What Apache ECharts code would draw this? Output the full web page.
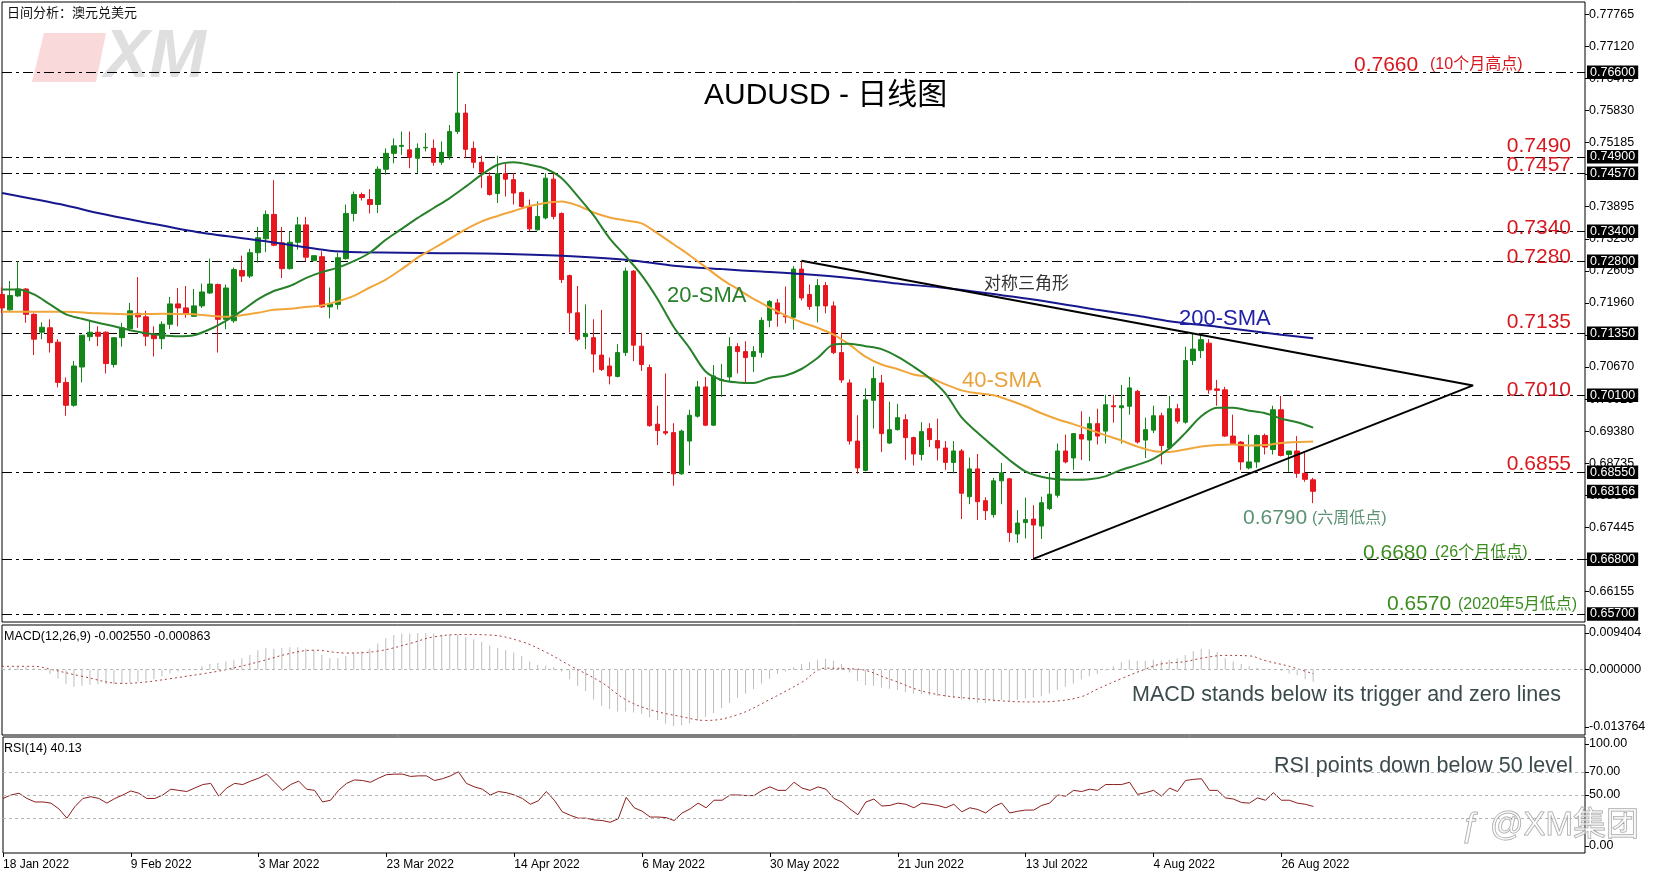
<!DOCTYPE html>
<html><head><meta charset="utf-8">
<script src="https://cdn.jsdelivr.net/npm/echarts@6/dist/echarts.min.js"></script>
<style>html,body{margin:0;padding:0;background:#fff;}#c{width:1654px;height:877px;}</style>
</head><body><div id="c"></div>
<script>
// ---------- DATA ----------
// daily candles, 18 Jan 2022 .. 1 Sep 2022 : [open, high, low, close]
const candles = [
[0.7213,0.7228,0.7175,0.7186],[0.7182,0.7240,0.7180,0.7211],[0.7210,0.7280,0.7208,0.7224],[0.7224,0.7226,0.7156,0.7173],[0.7173,0.7175,0.7091,0.7123],
[0.7137,0.7157,0.7123,0.7147],[0.7146,0.7163,0.7096,0.7116],[0.7117,0.7123,0.7026,0.7036],[0.7036,0.7046,0.6969,0.6990],[0.6990,0.7079,0.6987,0.7069],
[0.7067,0.7131,0.7036,0.7131],[0.7128,0.7159,0.7119,0.7137],[0.7137,0.7149,0.7109,0.7129],[0.7137,0.7139,0.7054,0.7074],[0.7072,0.7126,0.7066,0.7126],
[0.7126,0.7156,0.7108,0.7146],[0.7144,0.7196,0.7141,0.7180],[0.7175,0.7248,0.7146,0.7168],[0.7168,0.7180,0.7109,0.7129],[0.7133,0.7149,0.7088,0.7124],
[0.7124,0.7159,0.7103,0.7153],[0.7153,0.7208,0.7143,0.7194],[0.7194,0.7226,0.7149,0.7186],[0.7186,0.7230,0.7166,0.7175],[0.7169,0.7224,0.7168,0.7190],
[0.7190,0.7235,0.7186,0.7218],[0.7216,0.7285,0.7214,0.7234],[0.7233,0.7235,0.7096,0.7163],[0.7163,0.7233,0.7143,0.7226],[0.7160,0.7267,0.7156,0.7263],
[0.7261,0.7291,0.7238,0.7250],[0.7250,0.7305,0.7246,0.7297],[0.7297,0.7349,0.7277,0.7327],[0.7325,0.7382,0.7298,0.7374],[0.7374,0.7443,0.7310,0.7312],
[0.7317,0.7349,0.7246,0.7265],[0.7265,0.7340,0.7263,0.7318],[0.7318,0.7369,0.7303,0.7353],[0.7353,0.7369,0.7280,0.7288],[0.7281,0.7291,0.7280,0.7291],
[0.7289,0.7300,0.7186,0.7188],[0.7188,0.7227,0.7165,0.7194],[0.7193,0.7297,0.7183,0.7287],[0.7285,0.7394,0.7283,0.7376],[0.7376,0.7420,0.7360,0.7414],
[0.7414,0.7418,0.7402,0.7408],[0.7404,0.7425,0.7376,0.7394],[0.7394,0.7471,0.7377,0.7465],[0.7465,0.7507,0.7454,0.7497],[0.7497,0.7527,0.7477,0.7512],
[0.7511,0.7541,0.7494,0.7513],[0.7504,0.7541,0.7467,0.7489],[0.7487,0.7517,0.7457,0.7507],[0.7508,0.7538,0.7501,0.7509],[0.7507,0.7525,0.7472,0.7479],
[0.7479,0.7521,0.7474,0.7499],[0.7491,0.7554,0.7484,0.7541],[0.7541,0.7661,0.7536,0.7578],[0.7578,0.7596,0.7487,0.7505],[0.7507,0.7521,0.7467,0.7479],
[0.7479,0.7492,0.7427,0.7459],[0.7451,0.7459,0.7412,0.7414],[0.7416,0.7492,0.7397,0.7456],[0.7456,0.7477,0.7410,0.7445],[0.7444,0.7457,0.7394,0.7417],
[0.7418,0.7420,0.7388,0.7390],[0.7390,0.7404,0.7340,0.7345],[0.7343,0.7400,0.7342,0.7370],[0.7367,0.7457,0.7364,0.7447],[0.7445,0.7457,0.7364,0.7370],
[0.7376,0.7378,0.7236,0.7243],[0.7251,0.7253,0.7136,0.7176],[0.7176,0.7230,0.7119,0.7123],[0.7128,0.7193,0.7103,0.7134],[0.7126,0.7163,0.7056,0.7093],
[0.7091,0.7182,0.7059,0.7062],[0.7069,0.7086,0.7032,0.7049],[0.7048,0.7113,0.7046,0.7096],[0.7096,0.7267,0.7089,0.7260],[0.7260,0.7262,0.7079,0.7111],
[0.7109,0.7136,0.7059,0.7072],[0.7066,0.7072,0.6947,0.6949],[0.6952,0.6989,0.6910,0.6939],[0.6937,0.7054,0.6930,0.6934],[0.6935,0.6954,0.6828,0.6852],
[0.6852,0.6941,0.6850,0.6938],[0.6918,0.6981,0.6869,0.6970],[0.6968,0.7039,0.6965,0.7027],[0.7027,0.7047,0.6948,0.6950],[0.6950,0.7071,0.6948,0.7049],
[0.7040,0.7073,0.7007,0.7042],[0.7047,0.7127,0.7037,0.7108],[0.7108,0.7115,0.7054,0.7098],[0.7098,0.7119,0.7035,0.7086],[0.7088,0.7109,0.7057,0.7098],
[0.7096,0.7167,0.7086,0.7161],[0.7161,0.7202,0.7147,0.7199],[0.7196,0.7204,0.7148,0.7174],[0.7170,0.7229,0.7155,0.7168],[0.7167,0.7270,0.7142,0.7264],
[0.7264,0.7280,0.7201,0.7206],[0.7213,0.7233,0.7182,0.7189],[0.7190,0.7244,0.7157,0.7231],[0.7231,0.7238,0.7175,0.7190],[0.7190,0.7199,0.7093,0.7096],
[0.7096,0.7136,0.7035,0.7041],[0.7035,0.7042,0.6911,0.6918],[0.6918,0.6970,0.6852,0.6864],[0.6859,0.7024,0.6857,0.7001],[0.7000,0.7068,0.6943,0.7044],
[0.7035,0.7051,0.6896,0.6933],[0.6914,0.6997,0.6912,0.6941],[0.6941,0.6993,0.6939,0.6965],[0.6961,0.6972,0.6880,0.6925],[0.6925,0.6927,0.6869,0.6892],
[0.6891,0.6956,0.6879,0.6937],[0.6943,0.6954,0.6906,0.6921],[0.6919,0.6963,0.6879,0.6904],[0.6904,0.6918,0.6860,0.6875],[0.6875,0.6918,0.6853,0.6898],
[0.6898,0.6902,0.6761,0.6813],[0.6806,0.6885,0.6791,0.6862],[0.6862,0.6892,0.6759,0.6796],[0.6798,0.6805,0.6759,0.6778],[0.6770,0.6844,0.6764,0.6838],
[0.6838,0.6874,0.6791,0.6854],[0.6842,0.6844,0.6715,0.6734],[0.6731,0.6779,0.6713,0.6753],[0.6754,0.6804,0.6722,0.6760],[0.6761,0.6789,0.6681,0.6749],
[0.6747,0.6806,0.6721,0.6794],[0.6782,0.6854,0.6779,0.6811],[0.6809,0.6913,0.6804,0.6898],[0.6898,0.6931,0.6873,0.6876],[0.6884,0.6934,0.6860,0.6933],
[0.6931,0.6978,0.6880,0.6922],[0.6920,0.6967,0.6878,0.6953],[0.6953,0.6983,0.6911,0.6928],[0.6938,0.7011,0.6913,0.6991],[0.6989,0.7011,0.6955,0.6987],
[0.6985,0.7031,0.6913,0.6989],[0.6988,0.7047,0.6971,0.7025],[0.7018,0.7021,0.6913,0.6916],[0.6920,0.6965,0.6884,0.6941],[0.6940,0.6989,0.6934,0.6969],
[0.6969,0.6975,0.6871,0.6909],[0.6904,0.7009,0.6901,0.6983],[0.6983,0.6993,0.6953,0.6958],[0.6956,0.7108,0.6953,0.7080],[0.7080,0.7135,0.7071,0.7103],
[0.7100,0.7135,0.7085,0.7122],[0.7115,0.7123,0.7013,0.7021],[0.7023,0.7041,0.6989,0.7020],[0.7021,0.7027,0.6926,0.6928],[0.6928,0.6971,0.6911,0.6913],
[0.6916,0.6918,0.6860,0.6876],[0.6864,0.6931,0.6861,0.6876],[0.6876,0.6931,0.6864,0.6929],[0.6929,0.6933,0.6891,0.6906],[0.6901,0.6989,0.6891,0.6981],
[0.6981,0.7009,0.6887,0.6889],[0.6891,0.6898,0.6856,0.6898],[0.6898,0.6928,0.6844,0.6853],[0.6853,0.6894,0.6836,0.6841],[0.6840,0.6844,0.6793,0.6817]
];
// moving averages read at sampled bars: [barIndex, value]
const sma20 = [[0,0.7223],[2,0.7223],[4,0.7213],[6,0.7193],[8,0.7173],[10,0.7164],[12,0.7156],[14,0.7149],[16,0.7141],[18,0.7135],[20,0.7131],[22,0.7129],[24,0.7131],[26,0.7143],[28,0.7160],[30,0.7180],[32,0.7203],[34,0.7220],[36,0.7230],[38,0.7246],[40,0.7258],[42,0.7267],[44,0.7280],[46,0.7297],[48,0.7323],[50,0.7345],[52,0.7367],[54,0.7387],[56,0.7407],[58,0.7430],[60,0.7454],[62,0.7474],[64,0.7479],[66,0.7474],[68,0.7466],[70,0.7447],[72,0.7411],[74,0.7372],[76,0.7326],[78,0.7290],[80,0.7252],[82,0.7204],[84,0.7148],[86,0.7105],[88,0.7058],[90,0.7041],[92,0.7036],[94,0.7035],[96,0.7045],[98,0.7050],[100,0.7063],[102,0.7085],[104,0.7112],[106,0.7114],[108,0.7109],[110,0.7103],[112,0.7088],[114,0.7068],[116,0.7045],[118,0.7014],[120,0.6966],[122,0.6935],[124,0.6907],[126,0.6880],[128,0.6857],[130,0.6846],[132,0.6841],[134,0.6840],[136,0.6841],[138,0.6847],[140,0.6860],[142,0.6870],[144,0.6882],[146,0.6903],[148,0.6934],[150,0.6968],[152,0.6985],[154,0.6985],[156,0.6979],[158,0.6974],[160,0.6963],[162,0.6956],[164,0.6945]];
const sma40 = [[0,0.7178],[4,0.7178],[8,0.7178],[12,0.7175],[16,0.7173],[20,0.7174],[24,0.7173],[28,0.7168],[30,0.7171],[32,0.7176],[34,0.7182],[36,0.7184],[38,0.7188],[40,0.7191],[42,0.7199],[44,0.7210],[46,0.7227],[48,0.7243],[50,0.7264],[52,0.7287],[54,0.7306],[56,0.7325],[58,0.7344],[60,0.7360],[62,0.7371],[64,0.7381],[66,0.7391],[68,0.7397],[70,0.7400],[72,0.7392],[74,0.7378],[76,0.7368],[78,0.7362],[80,0.7356],[82,0.7336],[84,0.7314],[86,0.7292],[88,0.7268],[90,0.7244],[92,0.7224],[94,0.7204],[96,0.7187],[98,0.7171],[100,0.7157],[102,0.7146],[104,0.7132],[106,0.7112],[108,0.7088],[110,0.7072],[112,0.7063],[114,0.7052],[116,0.7046],[118,0.7032],[120,0.7020],[122,0.7014],[124,0.7010],[126,0.7000],[128,0.6988],[130,0.6974],[132,0.6962],[134,0.6952],[136,0.6941],[138,0.6930],[140,0.6919],[142,0.6907],[144,0.6898],[146,0.6896],[148,0.6901],[150,0.6907],[152,0.6910],[154,0.6911],[156,0.6909],[158,0.6910],[160,0.6914],[162,0.6916],[164,0.6917]];
const sma200 = [[0,0.7417],[8,0.7392],[12,0.7377],[17,0.7361],[25,0.7337],[33,0.7320],[41,0.7301],[45,0.7298],[55,0.7296],[62,0.7295],[70,0.7291],[78,0.7283],[84,0.7271],[90,0.7264],[95,0.7259],[100,0.7254],[106,0.7246],[112,0.7235],[118,0.7226],[123,0.7216],[131,0.7198],[137,0.7182],[142,0.7170],[147,0.7157],[152,0.7148],[156,0.7140],[160,0.7132],[164,0.7125]];
// symmetrical triangle: upper start -> apex -> lower start
const trianglePts = [[100,0.7281],[184,0.7030],[129,0.6681]];
// horizontal levels and current price
const levels = [0.7660,0.7490,0.7457,0.7340,0.7280,0.7135,0.7010,0.6855,0.6680,0.6570];
const lastPrice = 0.68166;
// price-axis tick labels
const priceTicks = [0.77765,0.77120,0.76475,0.75830,0.75185,0.74540,0.73895,0.73250,0.72605,0.71960,0.71315,0.70670,0.70025,0.69380,0.68735,0.68090,0.67445,0.66800,0.66155];
// MACD(12,26,9) main histogram, in units of 1e-4
const macdMainE4 = [5,5,6,6,3,-2,-9,-19,-31,-36,-34,-32,-31,-31,-31,-29,-27,-25,-23,-20,
-14,-8,-4,-2,1,7,12,14,17,21,24,31,41,46,44,46,47,47,44,41,
31,24,24,29,36,39,44,55,66,73,76,76,77,77,76,74,73,74,69,64,
59,51,46,41,36,29,17,10,9,5,-4,-20,-34,-45,-63,-76,-83,-88,-88,-90,
-93,-100,-106,-114,-119,-117,-113,-107,-99,-92,-81,-70,-59,-50,-41,-29,-19,-9,-4,5,
12,16,21,23,19,12,-6,-24,-33,-34,-38,-40,-43,-47,-50,-52,-54,-56,-57,-59,
-63,-65,-69,-70,-67,-64,-66,-64,-61,-59,-56,-50,-43,-36,-29,-21,-14,-9,-2,7,
16,21,19,19,21,19,21,24,31,39,44,43,37,24,17,12,7,4,2,0,-3,-8,-12,-20,-25.5];
// MACD signal line read at sampled bars, units of 1e-4
const macdSignalE4 = [[0,7],[4,7],[6,1],[10,-14],[15,-29],[18,-26],[21,-19],[25,-9],[28,0],[32,16],[36,34],[39,41],[43,35],[47,39],[51,55],[54,69],[58,74],[61,73],[65,59],[68,37],[71,9],[75,-27],[78,-63],[81,-84],[85,-99],[88,-107],[92,-95],[96,-63],[100,-27],[103,3],[107,1],[111,-20],[116,-49],[123,-63],[129,-68],[132,-66],[135,-57],[137,-41],[140,-19],[143,1],[145,12],[148,17],[150,24],[153,30],[156,29],[158,19],[161,7],[164,-8.6]];
// RSI(14)
const rsi = [47,50,51.5,47,44,44,43,38,30,40,47,48.5,47,43,47,50,53.5,51.5,47,47,
50,55,54,53,56,59,60,49,56,60,59,62,64.5,68,61,54,59,62,55,54,
44,45.5,54,60,63,62.5,61,64.5,67.5,68,68,66,66.5,66.5,62.5,64,66.5,70,60,57,
55,50,53,52,50,47,42,45,53,45.5,35.5,32.5,30,30,28.5,28,26.5,29.5,48,39,
36,31,31,30.5,28,34.5,38,43,39,45.5,45.5,50,50,49.5,49.5,54,57,54,54,61,
56,54,57,55,47,44,38,33,44,46.5,40.5,41,43,42,39,43,42,41,39,42,
35.5,39,37.5,34.5,40,43,34.5,36,37,37,41,43,50,49,54,53,55,54,59,59,
59,61,50.5,52,54,49,56,53,62.5,63.5,64,54,54,47.5,46.5,43.5,43,47.5,45.5,52,
45.5,45.5,43,42,40.13];
// time axis
const dateLabels = ['18 Jan 2022','9 Feb 2022','3 Mar 2022','23 Mar 2022','14 Apr 2022','6 May 2022','30 May 2022','21 Jun 2022','13 Jul 2022','4 Aug 2022','26 Aug 2022'];
const barsPerLabel = 16;
const slotCount = 199; // bar slots across the chart width (incl. empty future space)

// ---------- CHART ----------
const FONT = "'Liberation Sans', Arial, 'Noto Sans CJK SC', sans-serif";
const slots = Array.from({length: slotCount}, (_, i) => String(i));
const isLabelSlot = (i) => i % barsPerLabel === 0 && i / barsPerLabel < dateLabels.length;
const priceMin = 0.65539, priceMax = 0.78015;
const macdMax = 0.009404, macdMin = -0.013764;
const macdInset = (macdMax - macdMin) * 8 / 110;
const rsiInset = 100 * 7 / 116;
const RED = '#d7191f', GREEN = '#3c8d1f', TEAL = '#5a9273';
const UP = '#13861a', DOWN = '#e8161e';

const chart = echarts.init(document.getElementById('c'), null, {renderer: 'canvas'});

function hiddenX(gi) {
  return {type: 'category', gridIndex: gi, data: slots, boundaryGap: false, show: false};
}
function txt(x, y, text, size, color, align, extra) {
  return Object.assign({type: 'text', x: x, y: y, z: 50, silent: true,
    style: {text: text, font: size + 'px ' + FONT, fill: color,
      textAlign: align || 'left', align: align || 'left', textVerticalAlign: 'middle', verticalAlign: 'middle'}}, extra || {});
}
const boxLabel = {show: true, position: 'end', distance: 2, formatter: p => Number(p.value).toFixed(5),
  backgroundColor: '#000', color: '#fff', fontSize: 12.5, fontFamily: FONT, padding: [1, 3, 0, 3], opacity: 1};

const option = {
  animation: false,
  backgroundColor: '#fff',
  grid: [
    {left: 2, top: 2, width: 1583, height: 620, show: true, borderColor: '#000', borderWidth: 1, backgroundColor: 'transparent'},
    {left: 2, top: 625, width: 1583, height: 110, show: true, borderColor: '#000', borderWidth: 1, backgroundColor: 'transparent'},
    {left: 2, top: 737, width: 1583, height: 116, show: true, borderColor: '#000', borderWidth: 1, backgroundColor: 'transparent'}
  ],
  xAxis: [
    hiddenX(0), hiddenX(1),
    {type: 'category', gridIndex: 2, data: slots, boundaryGap: false,
      axisLine: {show: false}, splitLine: {show: false},
      axisTick: {show: true, interval: isLabelSlot, length: 4, lineStyle: {color: '#000'}},
      axisLabel: {show: true, interval: isLabelSlot, formatter: (v, i) => dateLabels[i / barsPerLabel] || '',
        align: 'left', margin: 6, fontSize: 12, fontFamily: FONT, color: '#000'}}
  ],
  yAxis: [
    {type: 'value', gridIndex: 0, position: 'right', min: priceMin, max: priceMax, scale: true,
      splitLine: {show: false}, axisLine: {show: false},
      axisTick: {show: true, length: 4, customValues: priceTicks, lineStyle: {color: '#000'}},
      axisLabel: {customValues: priceTicks, formatter: v => v.toFixed(5), fontSize: 12.5, fontFamily: FONT, color: '#000', margin: 4}},
    {type: 'value', gridIndex: 1, position: 'right', min: macdMin, max: macdMax,
      splitLine: {show: false}, axisLine: {show: false},
      axisTick: {show: true, length: 4, customValues: [macdMax - macdInset, 0, macdMin + macdInset], lineStyle: {color: '#000'}},
      axisLabel: {customValues: [macdMax - macdInset, 0, macdMin + macdInset],
        formatter: v => v > 0.001 ? macdMax.toFixed(6) : (v < -0.001 ? macdMin.toFixed(6) : '0.000000'),
        fontSize: 12.5, fontFamily: FONT, color: '#000', margin: 4}},
    {type: 'value', gridIndex: 2, position: 'right', min: 0, max: 100,
      splitLine: {show: false}, axisLine: {show: false},
      axisTick: {show: true, length: 4, customValues: [100 - rsiInset, 70, 50, rsiInset], lineStyle: {color: '#000'}},
      axisLabel: {customValues: [100 - rsiInset, 70, 50, rsiInset],
        formatter: v => v > 90 ? '100.00' : (v < 10 ? '0.00' : v.toFixed(2)),
        fontSize: 12.5, fontFamily: FONT, color: '#000', margin: 4}}
  ],
  series: [
    {type: 'candlestick', xAxisIndex: 0, yAxisIndex: 0, barWidth: 5, z: 3,
      data: candles.map(c => [c[0], c[3], c[2], c[1]]),
      itemStyle: {color: UP, color0: DOWN, borderColor: UP, borderColor0: DOWN, borderWidth: 1},
      markLine: {silent: true, symbol: ['none', 'none'], animation: false, z: 1, precision: 5,
        lineStyle: {type: [10, 4, 3, 4], color: '#000', width: 1},
        label: boxLabel,
        emphasis: {disabled: true},
        data: levels.map(v => ({yAxis: v})).concat([{yAxis: lastPrice, lineStyle: {color: 'rgba(0,0,0,0)', width: 0}, label: boxLabel}])}},
    {type: 'line', name: '200-SMA', xAxisIndex: 0, yAxisIndex: 0, data: sma200, showSymbol: false, smooth: 0.3, z: 4,
      lineStyle: {color: '#18188e', width: 2}},
    {type: 'line', name: '40-SMA', xAxisIndex: 0, yAxisIndex: 0, data: sma40, showSymbol: false, smooth: 0.3, z: 4,
      lineStyle: {color: '#f0a63a', width: 2}},
    {type: 'line', name: '20-SMA', xAxisIndex: 0, yAxisIndex: 0, data: sma20, showSymbol: false, smooth: 0.3, z: 4,
      lineStyle: {color: '#27802a', width: 2}},
    {type: 'line', name: 'triangle', xAxisIndex: 0, yAxisIndex: 0, data: trianglePts, showSymbol: false, z: 5,
      lineStyle: {color: '#000', width: 2}},
    {type: 'bar', xAxisIndex: 1, yAxisIndex: 1, data: macdMainE4.map(v => v * 1e-4), barWidth: 1,
      itemStyle: {color: '#bdbdbd'},
      markLine: {silent: true, symbol: ['none', 'none'], label: {show: false}, emphasis: {disabled: true},
        lineStyle: {type: [3, 3], color: '#b5b5b5', width: 1}, data: [{yAxis: 0}]}},
    {type: 'line', xAxisIndex: 1, yAxisIndex: 1, data: macdSignalE4.map(p => [p[0], p[1] * 1e-4]), showSymbol: false, smooth: 0.4,
      lineStyle: {color: '#a8403d', width: 1, type: [2, 3]}},
    {type: 'line', xAxisIndex: 2, yAxisIndex: 2, data: rsi, showSymbol: false,
      lineStyle: {color: '#8b1d1d', width: 1},
      markLine: {silent: true, symbol: ['none', 'none'], label: {show: false}, emphasis: {disabled: true},
        lineStyle: {type: [3, 3], color: '#b5b5b5', width: 1}, data: [{yAxis: 70}, {yAxis: 50}, {yAxis: 30}]}}
  ],
  graphic: [
    {type: 'polygon', z: 0, silent: true, shape: {points: [[44, 33], [106, 33], [96, 82], [32, 82]]}, style: {fill: 'rgba(232,110,110,0.26)'}},
    {type: 'text', x: 104, y: 58, z: 0, silent: true, style: {text: 'XM', font: 'italic 900 68px ' + FONT, fill: 'rgba(170,170,170,0.38)', textVerticalAlign: 'middle', verticalAlign: 'middle'}},
    txt(7, 13, '日间分析：澳元兑美元', 13, '#111'),
    txt(704, 96, 'AUDUSD - 日线图', 30, '#000'),
    txt(1354, 65, '0.7660', 21, RED), txt(1430, 65, '(10个月高点)', 16, RED),
    txt(1571, 146, '0.7490', 21, RED, 'right'),
    txt(1571, 165.5, '0.7457', 21, RED, 'right'),
    txt(1571, 228, '0.7340', 21, RED, 'right'),
    txt(1571, 257.5, '0.7280', 21, RED, 'right'),
    txt(1571, 322.5, '0.7135', 21, RED, 'right'),
    txt(1571, 390.5, '0.7010', 21, RED, 'right'),
    txt(1571, 464, '0.6855', 21, RED, 'right'),
    txt(1243, 518.5, '0.6790', 21, TEAL), txt(1312, 518.5, '(六周低点)', 16, TEAL),
    txt(1363, 553, '0.6680', 21, GREEN), txt(1435, 553, '(26个月低点)', 16, GREEN),
    txt(1387, 604.5, '0.6570', 21, GREEN), txt(1458, 604.5, '(2020年5月低点)', 16, GREEN),
    txt(667, 296, '20-SMA', 22, '#27802a'),
    txt(962, 381, '40-SMA', 22, '#eaa33c'),
    txt(1179, 319, '200-SMA', 22, '#2020a8'),
    txt(984, 284.5, '对称三角形', 17, '#333'),
    txt(4, 637, 'MACD(12,26,9) -0.002550 -0.000863', 12.5, '#000'),
    txt(4, 748.5, 'RSI(14) 40.13', 12.5, '#000'),
    txt(1132, 695.5, 'MACD stands below its trigger and zero lines', 21.5, '#3b4a4c'),
    txt(1274, 766.5, 'RSI points down below 50 level', 21.5, '#3b4a4c'),
    {type: 'text', x: 1460, y: 826, z: 60, silent: true, style: {text: 'ƒ', font: 'italic 34px ' + FONT, fill: 'rgba(255,255,255,0.5)', stroke: '#9c9c9c', lineWidth: 1, textVerticalAlign: 'middle', verticalAlign: 'middle'}},
    {type: 'text', x: 1490, y: 826, z: 60, silent: true, style: {text: '@XM集团', font: '33px ' + FONT, fill: 'rgba(255,255,255,0.5)', stroke: '#9c9c9c', lineWidth: 1, textVerticalAlign: 'middle', verticalAlign: 'middle'}}
  ]
};
chart.setOption(option);
</script></body></html>
